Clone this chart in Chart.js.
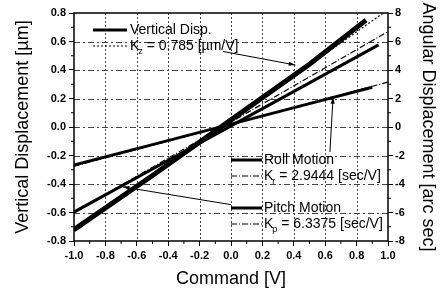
<!DOCTYPE html>
<html>
<head>
<meta charset="utf-8">
<script src="https://cdn.jsdelivr.net/npm/chart.js@4"></script>
<style>
  html, body { margin: 0; padding: 0; background: #fff; }
  #wrap { width: 440px; height: 292px; }
</style>
</head>
<body>
<div id="wrap"><canvas id="chart" width="440" height="292"></canvas></div>
<script>
// Measured data and fitted lines (command [V] vs displacement)
const vertCmd = [-1.0, -0.5, 0.0, 0.5, 0.86];
const vertDisp = [-0.72, -0.34, 0.05, 0.44, 0.75];      // [um], left axis
const vertFitCmd = [-1.0, 0.97];
const vertFit = [-0.73, 0.80];

const rollCmd = [-1.0, -0.5, 0.0, 0.5, 0.9];
const rollDisp = [-2.67, -1.24, 0.20, 1.64, 2.79];       // [arc sec], right axis
const rollFitCmd = [-1.0, 1.0];
const rollFit = [-2.75, 3.15];

const pitchCmd = [-1.0, -0.5, 0.0, 0.5, 0.94];
const pitchDisp = [-5.97, -2.95, 0.08, 3.10, 5.76];      // [arc sec], right axis
const pitchFitCmd = [-1.0, 1.0];
const pitchFit = [-6.0, 6.7];

// annotation arrows (tail -> head), in data units
const arrowKz = { x: [-0.05, 0.41], y: [0.53, 0.435] };     // left axis
const arrowRoll = { x: [0.63, 0.65], y: [-1.75, 2.1] };     // right axis
const arrowPitch = { x: [0.0, -0.69], y: [-5.45, -4.2] };   // right axis

const xTicks = [-1.0, -0.8, -0.6, -0.4, -0.2, 0.0, 0.2, 0.4, 0.6, 0.8, 1.0];
const leftTicks = [-0.8, -0.6, -0.4, -0.2, 0.0, 0.2, 0.4, 0.6, 0.8];
const rightTicks = [-8, -6, -4, -2, 0, 2, 4, 6, 8];

function pts(xs, ys) {
  return xs.map((x, i) => ({ x: x, y: ys[i] }));
}

const FONT = "'Liberation Sans', Arial, sans-serif";

function lineSet(data, axis, width, dash, extra) {
  return Object.assign({
    data: data,
    yAxisID: axis,
    showLine: true,
    borderColor: '#000',
    backgroundColor: '#000',
    borderWidth: width,
    borderDash: dash,
    pointRadius: 0,
    tension: 0
  }, extra || {});
}

// dashed grid behind the lines
const gridLines = {
  id: 'gridLines',
  beforeDatasetsDraw(chart) {
    const ctx = chart.ctx;
    const area = chart.chartArea;
    const xs = chart.scales.x, yl = chart.scales.y;
    ctx.save();
    ctx.strokeStyle = '#444';
    ctx.lineWidth = 1;
    ctx.setLineDash([2, 2]);
    ctx.beginPath();
    xTicks.slice(1, -1).forEach(v => {
      const px = Math.round(xs.getPixelForValue(v)) + 0.5;
      ctx.moveTo(px, area.top); ctx.lineTo(px, area.bottom);
    });
    ctx.stroke();
    ctx.setLineDash([6, 3, 2, 3]);
    ctx.beginPath();
    leftTicks.slice(1, -1).forEach(v => {
      const py = Math.round(yl.getPixelForValue(v)) + 0.5;
      ctx.moveTo(area.left, py); ctx.lineTo(area.right, py);
    });
    ctx.stroke();
    ctx.restore();
  }
};

// arrowheads at the last point of datasets flagged "arrow"
const arrowHeads = {
  id: 'arrowHeads',
  afterDatasetsDraw(chart) {
    const ctx = chart.ctx;
    chart.data.datasets.forEach((ds, i) => {
      if (!ds.arrow) return;
      const meta = chart.getDatasetMeta(i);
      const a = meta.data[meta.data.length - 2], b = meta.data[meta.data.length - 1];
      const ang = Math.atan2(b.y - a.y, b.x - a.x);
      ctx.save();
      ctx.fillStyle = '#000';
      ctx.beginPath();
      ctx.moveTo(b.x, b.y);
      ctx.lineTo(b.x - 7 * Math.cos(ang - 0.3), b.y - 7 * Math.sin(ang - 0.3));
      ctx.lineTo(b.x - 7 * Math.cos(ang + 0.3), b.y - 7 * Math.sin(ang + 0.3));
      ctx.closePath();
      ctx.fill();
      ctx.restore();
    });
  }
};

// frame, minor ticks and the in-plot legends
const decor = {
  id: 'decor',
  afterDraw(chart) {
    const ctx = chart.ctx;
    const area = chart.chartArea;
    const xs = chart.scales.x, yl = chart.scales.y, yr = chart.scales.y2;
    ctx.save();
    ctx.strokeStyle = '#000';
    ctx.lineWidth = 1.5;
    ctx.setLineDash([]);
    ctx.strokeRect(area.left, area.top, area.right - area.left, area.bottom - area.top);

    // minor ticks
    ctx.lineWidth = 1;
    ctx.beginPath();
    for (let i = 0; i < xTicks.length - 1; i++) {
      const px = xs.getPixelForValue((xTicks[i] + xTicks[i + 1]) / 2);
      ctx.moveTo(px, area.bottom); ctx.lineTo(px, area.bottom + 3);
    }
    for (let i = 0; i < leftTicks.length - 1; i++) {
      const py = yl.getPixelForValue((leftTicks[i] + leftTicks[i + 1]) / 2);
      ctx.moveTo(area.left, py); ctx.lineTo(area.left - 3, py);
    }
    for (let i = 0; i < rightTicks.length - 1; i++) {
      const py = yr.getPixelForValue((rightTicks[i] + rightTicks[i + 1]) / 2);
      ctx.moveTo(area.right, py); ctx.lineTo(area.right + 3, py);
    }
    ctx.stroke();

    function sample(x1, x2, y, width, dash) {
      ctx.save();
      ctx.lineWidth = width;
      ctx.setLineDash(dash);
      ctx.beginPath();
      ctx.moveTo(x1, y); ctx.lineTo(x2, y);
      ctx.stroke();
      ctx.restore();
    }
    function label(x, y, text) {
      ctx.font = '14px ' + FONT;
      ctx.fillStyle = '#000';
      ctx.textBaseline = 'middle';
      ctx.textAlign = 'left';
      ctx.fillText(text, x, y);
    }
    function kLabel(x, y, sub, rest) {
      label(x, y, 'K');
      const w = ctx.measureText('K').width;
      ctx.font = '9px ' + FONT;
      ctx.fillText(sub, x + w - 1, y + 6);
      const ws = ctx.measureText(sub).width;
      label(x + w + ws - 1, y, rest);
    }

    sample(93, 127, 30, 3, []);
    label(130, 30, 'Vertical Disp.');
    sample(93, 127, 46, 1.2, [2, 2]);
    kLabel(130, 46, 'z', ' = 0.785 [\u00b5m/V]');

    sample(231, 262, 160, 3, []);
    label(264, 160, 'Roll Motion');
    sample(231, 262, 176, 1.2, [6, 2, 1, 2]);
    kLabel(264, 176, 'r', ' = 2.9444 [sec/V]');

    sample(231, 262, 208, 3, []);
    label(264, 208, 'Pitch Motion');
    sample(231, 262, 224, 1.2, [6, 2, 1, 2]);
    kLabel(264, 224, 'p', ' = 6.3375 [sec/V]');
    ctx.restore();
  }
};

const tickFont = { family: FONT, size: 11, weight: 'bold' };
const titleFont = { family: FONT, size: 18 };

new Chart(document.getElementById('chart'), {
  type: 'scatter',
  data: {
    datasets: [
      lineSet(pts(vertFitCmd, vertFit), 'y', 1.2, [2, 2]),
      lineSet(pts(rollFitCmd, rollFit), 'y2', 1.2, [6, 2, 1, 2]),
      lineSet(pts(pitchFitCmd, pitchFit), 'y2', 1.2, [6, 2, 1, 2]),
      lineSet(pts(vertCmd, vertDisp), 'y', 5, []),
      lineSet(pts(rollCmd, rollDisp), 'y2', 3, []),
      lineSet(pts(pitchCmd, pitchDisp), 'y2', 3, []),
      lineSet(pts(arrowKz.x, arrowKz.y), 'y', 1, [], { arrow: true }),
      lineSet(pts(arrowRoll.x, arrowRoll.y), 'y2', 1, [], { arrow: true }),
      lineSet(pts(arrowPitch.x, arrowPitch.y), 'y2', 1, [], { arrow: true })
    ]
  },
  options: {
    responsive: false,
    animation: false,
    layout: { padding: { top: 13, left: 0, right: 0, bottom: 0 } },
    plugins: {
      legend: { display: false },
      tooltip: { enabled: false }
    },
    scales: {
      x: {
        type: 'linear',
        min: -1.0,
        max: 1.0,
        afterBuildTicks: s => { s.ticks = xTicks.map(v => ({ value: v })); },
        afterFit: s => { s.height = 51; },
        ticks: {
          font: tickFont, color: '#000', padding: 3,
          maxRotation: 0, autoSkip: false,
          callback: v => v.toFixed(1)
        },
        grid: { drawOnChartArea: false, tickLength: 5, tickColor: '#000' },
        border: { display: false },
        title: { display: true, text: 'Command [V]', font: titleFont, color: '#000', padding: { top: 0, bottom: 2 } }
      },
      y: {
        position: 'left',
        min: -0.8,
        max: 0.8,
        afterBuildTicks: s => { s.ticks = leftTicks.map(v => ({ value: v })); },
        afterFit: s => { s.width = 74; },
        ticks: {
          font: tickFont, color: '#000', padding: 3, autoSkip: false,
          callback: v => v.toFixed(1)
        },
        grid: { drawOnChartArea: false, tickLength: 5, tickColor: '#000' },
        border: { display: false },
        title: { display: true, text: 'Vertical Displacement [\u00b5m]', font: titleFont, color: '#000', padding: { top: 12, bottom: 0 } }
      },
      y2: {
        position: 'right',
        min: -8,
        max: 8,
        afterBuildTicks: s => { s.ticks = rightTicks.map(v => ({ value: v })); },
        afterFit: s => { s.width = 52; },
        ticks: {
          font: tickFont, color: '#000', padding: 2, autoSkip: false,
          callback: v => String(v)
        },
        grid: { drawOnChartArea: false, tickLength: 5, tickColor: '#000' },
        border: { display: false },
        title: { display: true, text: 'Angular Displacement [arc sec]', font: titleFont, color: '#000', padding: { top: 1, bottom: 0 } }
      }
    }
  },
  plugins: [gridLines, arrowHeads, decor]
});
</script>
</body>
</html>
